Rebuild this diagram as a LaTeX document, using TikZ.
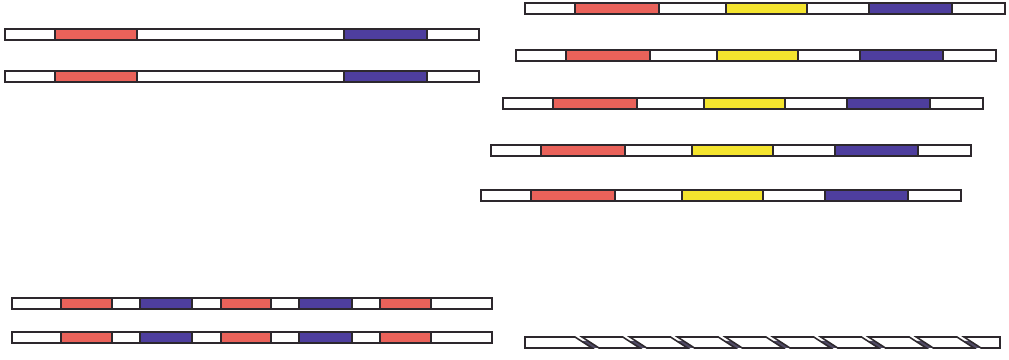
\documentclass[tikz,border=0pt]{standalone}
\definecolor{segred}{RGB}{234,98,90}
\definecolor{segblue}{RGB}{78,62,158}
\definecolor{segyellow}{RGB}{244,228,46}
\definecolor{segline}{RGB}{45,40,45}
\definecolor{segback}{RGB}{80,74,100}
\begin{document}
\begin{tikzpicture}[x=0.025cm, y=-0.025cm,
        seg/.style={draw=segline, line width=0.9pt},
        outline/.style={draw=segline, line width=1.1pt}]
    \useasboundingbox (0,0) rectangle (1009,360);

    % two plain bars, top left
    \foreach \y in {29,71} {
        \filldraw[seg, fill=segred] (55,\y) rectangle (137,\y+11);
        \filldraw[seg, fill=segblue] (344,\y) rectangle (427,\y+11);
        \draw[outline] (5,\y) rectangle (479,\y+11);
    }

    % staggered bars, right
    \foreach \x/\y in {525/3, 516/50, 503/98, 491/145, 481/190} {
        \filldraw[seg, fill=segred] (\x+50,\y) rectangle (\x+134,\y+11);
        \filldraw[seg, fill=segyellow] (\x+201,\y) rectangle (\x+282,\y+11);
        \filldraw[seg, fill=segblue] (\x+344,\y) rectangle (\x+427,\y+11);
        \draw[outline] (\x,\y) rectangle (\x+480,\y+11);
    }

    % alternating bars, bottom left
    \foreach \y in {298,332} {
        \foreach \a/\b/\c in {61/112/segred, 140/192/segblue, 221/271/segred, 299/352/segblue, 380/431/segred}
            \filldraw[seg, fill=\c] (\a,\y) rectangle (\b,\y+11);
        \draw[outline] (12,\y) rectangle (492,\y+11);
    }

    % twisted ribbon, bottom right
    \foreach \i in {0,...,8} {
        \pgfmathsetmacro\t{575+47.75*\i}
        \fill[segback] (\t+6.2,341) -- (\t+13.2,341) -- (\t+24,348) -- (\t+17,348) -- cycle;
    }
    \draw[outline] (525,337) -- (575,337) -- (592,348) -- (525,348) -- cycle;
    \foreach \i in {1,...,8} {
        \pgfmathsetmacro\ta{575+47.75*(\i-1)}
        \pgfmathsetmacro\tb{575+47.75*\i}
        \draw[outline] (\ta+7,337) -- (\tb,337) -- (\tb+17,348) -- (\ta+24,348) -- cycle;
    }
    \draw[outline] (964,337) -- (1000,337) -- (1000,348) -- (981,348) -- cycle;
\end{tikzpicture}
\end{document}
